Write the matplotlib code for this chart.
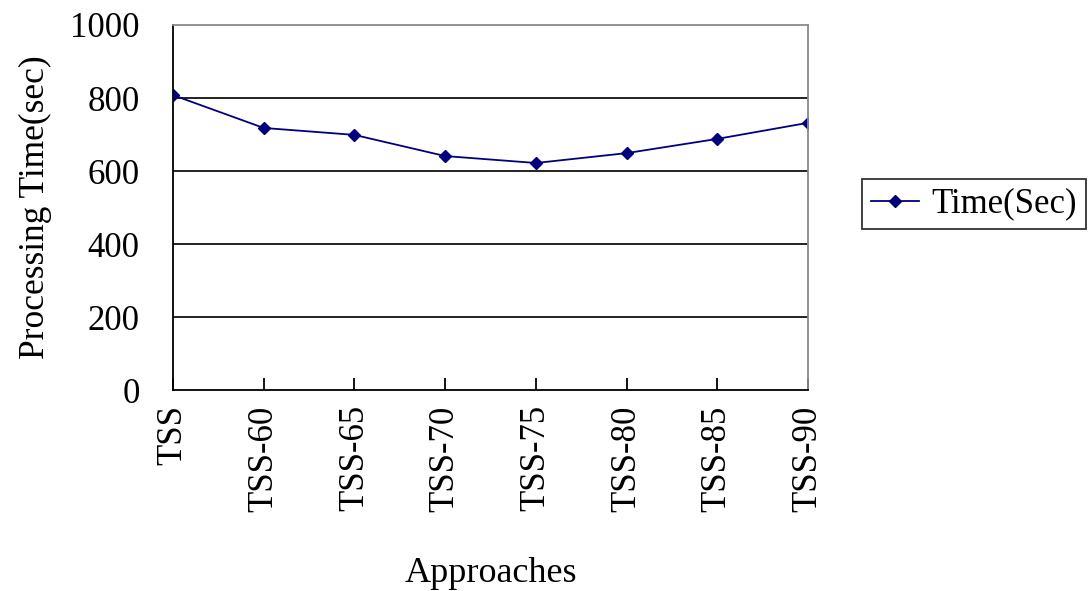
import matplotlib
matplotlib.use('Agg')
import matplotlib.pyplot as plt

approaches = ['TSS', 'TSS-60', 'TSS-65', 'TSS-70', 'TSS-75', 'TSS-80', 'TSS-85', 'TSS-90']
time_sec = [808, 718, 699, 641, 622, 649, 688, 732]
y_ticks = [0, 200, 400, 600, 800, 1000]

plt.rcParams['font.family'] = ['Liberation Serif', 'DejaVu Serif']

fig = plt.figure(figsize=(10.88, 5.91), dpi=100)
ax = fig.add_axes([0.159, 0.340, 0.5836, 0.6177])

x = list(range(len(approaches)))
ax.plot(x, time_sec, color='#000080', lw=1.3, marker='D', markersize=6,
        label='Time(Sec)')

ax.set_xlim(0, len(approaches) - 1)
ax.set_ylim(0, 1000)
ax.set_yticks(y_ticks)
ax.set_xticks(x)
ax.set_xticklabels(approaches, rotation=90)

# horizontal gridlines only
for v in y_ticks[1:-1]:
    ax.axhline(v, color='#111111', lw=1.3, zorder=0)

ax.spines['left'].set_color('black')
ax.spines['bottom'].set_color('black')
ax.spines['top'].set_color('#8a8a8a')
ax.spines['right'].set_color('#8a8a8a')
for s in ax.spines.values():
    s.set_linewidth(1.3)

ax.tick_params(axis='y', length=0, pad=24, labelsize=25)
ax.tick_params(axis='x', direction='in', length=9, width=1.3, pad=11, labelsize=25)

ax.set_ylabel('Processing Time(sec)', fontsize=25.5)
ax.yaxis.set_label_coords(-0.19, 0.5)
ax.set_xlabel('Approaches', fontsize=26)
ax.xaxis.set_label_coords(0.5, -0.4575)

leg = ax.legend(loc='upper left', bbox_to_anchor=(0.7923, 0.6971),
                bbox_transform=fig.transFigure, fontsize=25, frameon=True,
                fancybox=False, handlelength=1.4, borderpad=0.25,
                handletextpad=0.35, borderaxespad=0)
leg.get_frame().set_edgecolor('black')
leg.get_frame().set_linewidth(1.3)

fig.savefig('out.png', dpi=100)
